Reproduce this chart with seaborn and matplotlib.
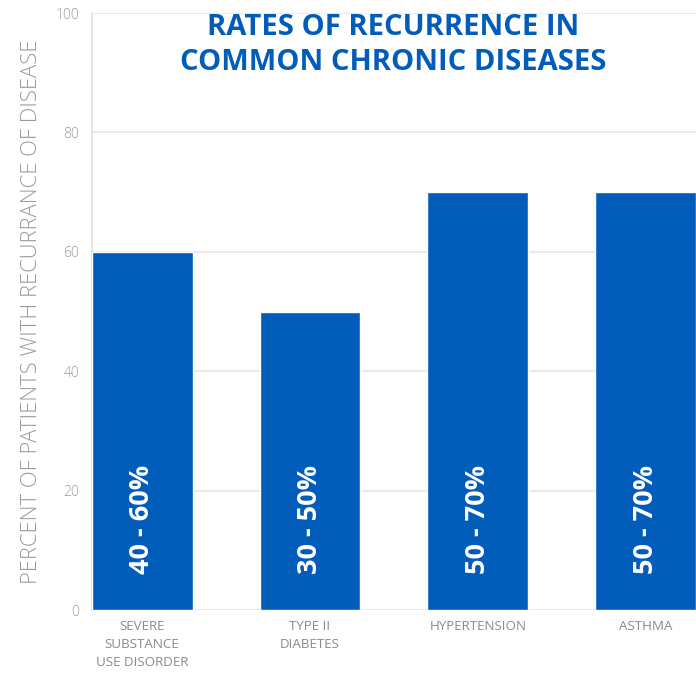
import matplotlib
matplotlib.use("Agg")
import matplotlib.pyplot as plt
import seaborn as sns
import pandas as pd

categories = ["SEVERE\nSUBSTANCE\nUSE DISORDER", "TYPE II\nDIABETES", "HYPERTENSION", "ASTHMA"]
recurrence_upper = [60, 50, 70, 70]
range_labels = ["40 - 60%", "30 - 50%", "50 - 70%", "50 - 70%"]
y_ticks = [0, 20, 40, 60, 80, 100]

BLUE = "#015cba"
GRAY = "#8a8a8a"

sns.set_theme(style="white")
plt.rcParams["font.family"] = ["Open Sans", "DejaVu Sans"]

df = pd.DataFrame({"disease": categories, "rate": recurrence_upper})

fig = plt.figure(figsize=(6.96, 6.73), dpi=100)
ax = fig.add_axes([0.132, 0.0936, 0.868, 0.887])

sns.barplot(data=df, x="disease", y="rate", color=BLUE, saturation=1,
            width=0.6, ax=ax, zorder=3)

ax.set_xlim(-0.3, 3.3)
ax.set_ylim(0, 100)
ax.set_yticks(y_ticks)
ax.yaxis.grid(True, color="#e6e6e6", linewidth=1.2, zorder=0)
ax.set_axisbelow(True)

for side in ["top", "right", "bottom"]:
    ax.spines[side].set_visible(False)
ax.spines["left"].set_color("#e0e0e0")
ax.spines["left"].set_linewidth(1.2)

ax.tick_params(axis="both", length=0)
ax.tick_params(axis="y", pad=9, labelsize=10, labelcolor="#9a9a9a")
for lbl in ax.get_yticklabels():
    lbl.set_fontweight("light")
ax.set_xticks(range(len(categories)))
ax.set_xticklabels(categories, fontsize=9.6, color=GRAY, linespacing=1.5)
ax.tick_params(axis="x", pad=7)

ax.set_xlabel("")
ax.set_ylabel("PERCENT OF PATIENTS WITH RECURRANCE OF DISEASE",
              fontsize=15.8, color="#9a9a9a", fontweight="light")
ax.yaxis.set_label_coords(-0.083, 0.5)

for i, txt in enumerate(range_labels):
    ax.text(i, 6, txt, rotation=90, ha="center", va="bottom",
            color="white", fontsize=19.5, fontweight="bold", zorder=5)

fig.text(0.565, 0.981, "RATES OF RECURRENCE IN\nCOMMON CHRONIC DISEASES",
         ha="center", va="top", color=BLUE, fontsize=21, fontweight="bold",
         linespacing=1.28)

fig.savefig("out.png", dpi=100)
